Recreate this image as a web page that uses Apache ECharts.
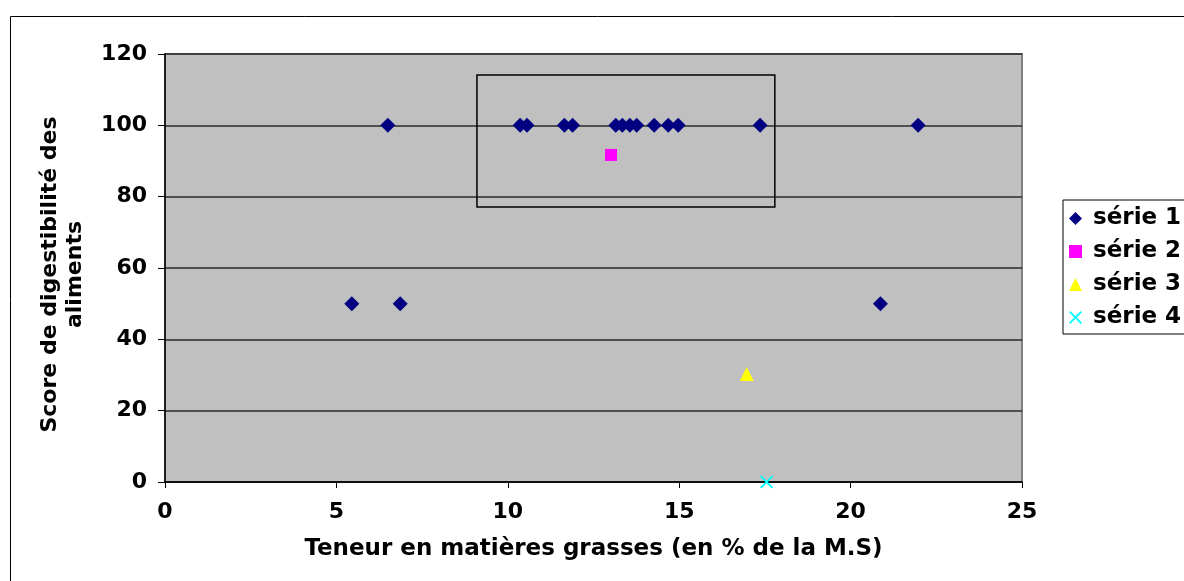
<!DOCTYPE html>
<html><head><meta charset="utf-8">
<script src="https://cdn.jsdelivr.net/npm/echarts@6/dist/echarts.min.js"></script>
<style>html,body{margin:0;padding:0;background:#fff}#c{width:1184px;height:581px}</style>
</head><body><div id="c"></div>
<script>
const serie1 = [[6.5,100],[10.36,100],[10.56,100],[11.65,100],[11.89,100],[13.15,100],[13.34,100],[13.56,100],[13.76,100],[14.27,100],[14.68,100],[14.97,100],[17.36,100],[21.97,100],[5.45,50],[6.86,50],[20.87,50]];
const serie2 = [[13.01,91.7]];
const serie3 = [[16.97,30.3]];
const serie4 = [[17.55,0]];
const seriesNames = ['série 1','série 2','série 3','série 4'];
const boxRange = [[9.1,114.1],[17.79,77.1]];
const xTitle = 'Teneur en matières grasses (en % de la M.S)';
const yTitle = 'Score de digestibilité des\naliments';

const FONT = 'DejaVu Sans';
const FS = 22;
const crossPath = 'path://M0,1L1,0L5,4L9,0L10,1L6,5L10,9L9,10L5,6L1,10L0,9L4,5Z';
const chart = echarts.init(document.getElementById('c'));
chart.setOption({
  animation:false,
  graphic:[{type:'rect',shape:{x:10.5,y:16.5,width:1300,height:700},style:{fill:null,stroke:'#000',lineWidth:1},z:-10}],
  grid:{left:165,right:162,top:54,bottom:99,show:true,backgroundColor:'#C0C0C0',borderColor:'#808080',borderWidth:2},
  legend:{
    orient:'vertical',left:1063,top:200,padding:[7,8,5,6],itemGap:10,itemWidth:13,itemHeight:13,
    borderColor:'#000',borderWidth:1,backgroundColor:'#fff',
    textStyle:{fontFamily:FONT,fontWeight:'bold',fontSize:23,color:'#000',padding:[0,0,0,6]},
    data:seriesNames
  },
  xAxis:{
    type:'value',min:0,max:25,interval:5,
    name:xTitle,nameLocation:'middle',nameGap:56,
    nameTextStyle:{fontFamily:FONT,fontWeight:'bold',fontSize:23,color:'#000'},
    axisLine:{lineStyle:{color:'#000',width:1.5}},
    axisTick:{show:true,length:6,lineStyle:{color:'#000'}},
    axisLabel:{fontFamily:FONT,fontWeight:'bold',fontSize:FS,color:'#000',margin:19},
    splitLine:{show:false}
  },
  yAxis:{
    type:'value',min:0,max:120,interval:20,
    name:yTitle,nameLocation:'middle',nameGap:77,nameRotate:90,
    nameTextStyle:{fontFamily:FONT,fontWeight:'bold',fontSize:FS,color:'#000',lineHeight:25,padding:[0,13,0,0]},
    axisLine:{show:true,lineStyle:{color:'#000',width:1.5}},
    axisTick:{show:true,length:7,lineStyle:{color:'#000'}},
    axisLabel:{fontFamily:FONT,fontWeight:'bold',fontSize:FS,color:'#000',margin:18},
    splitLine:{show:true,lineStyle:{color:'#2a2a2a',width:1.5}}
  },
  series:[
    {name:seriesNames[0],type:'scatter',data:serie1,symbol:'diamond',symbolSize:15,itemStyle:{color:'#000080',opacity:1},
     markArea:{silent:true,itemStyle:{color:'rgba(0,0,0,0)',borderColor:'#000',borderWidth:1.5},data:[[{coord:boxRange[0]},{coord:boxRange[1]}]]}},
    {name:seriesNames[1],type:'scatter',data:serie2,symbol:'rect',symbolSize:12,itemStyle:{color:'#FF00FF',opacity:1}},
    {name:seriesNames[2],type:'scatter',data:serie3,symbol:'triangle',symbolSize:14,itemStyle:{color:'#FFFF00',opacity:1}},
    {name:seriesNames[3],type:'scatter',data:serie4,symbol:crossPath,symbolSize:13,itemStyle:{color:'#00FFFF',opacity:1}}
  ]
});
</script></body></html>
